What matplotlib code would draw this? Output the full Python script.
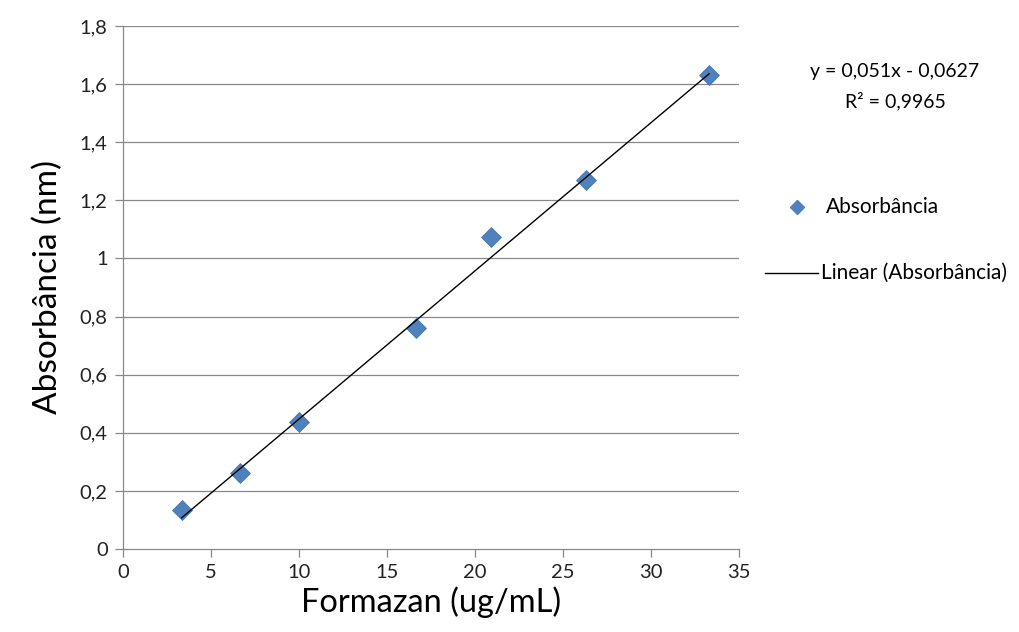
import matplotlib
matplotlib.use('Agg')
import matplotlib.pyplot as plt
import numpy as np

# data
formazan = [3.33, 6.67, 10.0, 16.67, 20.9, 26.3, 33.3]
absorbancia = [0.134, 0.26, 0.437, 0.76, 1.074, 1.27, 1.63]
slope, intercept = 0.051, -0.0627
x_ticks = [0, 5, 10, 15, 20, 25, 30, 35]
y_ticks = [0, 0.2, 0.4, 0.6, 0.8, 1.0, 1.2, 1.4, 1.6, 1.8]
y_labels = ['0', '0,2', '0,4', '0,6', '0,8', '1', '1,2', '1,4', '1,6', '1,8']

plt.rcParams['font.family'] = ['Lato', 'DejaVu Sans']
fig = plt.figure(figsize=(10.19, 6.32), dpi=100)
ax = fig.add_axes([123/1019, 83/632, 616/1019, 523/632])

grid_c = '#888888'
for t in y_ticks[1:]:
    ax.axhline(t, color=grid_c, lw=0.9, zorder=0)

ax.plot(formazan, absorbancia, 'D', color='#4F81BD', markersize=10.5,
        markeredgecolor='#3F6FA8', markeredgewidth=0.5, zorder=3)
xf = np.array([formazan[0], formazan[-1]])
ax.plot(xf, slope*xf + intercept, color='black', lw=1, zorder=4)

ax.set_xlim(0, 35)
ax.set_ylim(0, 1.8)
ax.set_xticks(x_ticks)
ax.set_xticklabels([str(t) for t in x_ticks])
ax.set_yticks(y_ticks)
ax.set_yticklabels(y_labels)
for s in ['top', 'right']:
    ax.spines[s].set_visible(False)
for s in ['left', 'bottom']:
    ax.spines[s].set_color(grid_c)
    ax.spines[s].set_linewidth(0.9)
ax.tick_params(axis='both', direction='out', length=6, width=0.9, color=grid_c,
               labelsize=14.5, labelcolor='#222222', pad=5)

ax.set_xlabel('Formazan (ug/mL)', fontsize=23.5, labelpad=4)
ax.set_ylabel('Absorbância (nm)', fontsize=24, labelpad=12)

# equation and legend on the right
fig.text(895/1019, 1 - 72/632, 'y = 0,051x - 0,0627', ha='center', va='center', fontsize=14)
fig.text(895/1019, 1 - 101/632, 'R² = 0,9965', ha='center', va='center', fontsize=14)
fig.lines.append(plt.Line2D([797/1019], [1 - 207/632], marker='D', color='#4F81BD',
                            markersize=7, transform=fig.transFigure))
fig.text(826/1019, 1 - 207/632, 'Absorbância', ha='left', va='center', fontsize=15)
fig.lines.append(plt.Line2D([765/1019, 818/1019], [1 - 273/632, 1 - 273/632], color='black',
                            lw=1, transform=fig.transFigure))
fig.text(821/1019, 1 - 273/632, 'Linear (Absorbância)', ha='left', va='center', fontsize=15)

fig.savefig('out.png', dpi=100)
